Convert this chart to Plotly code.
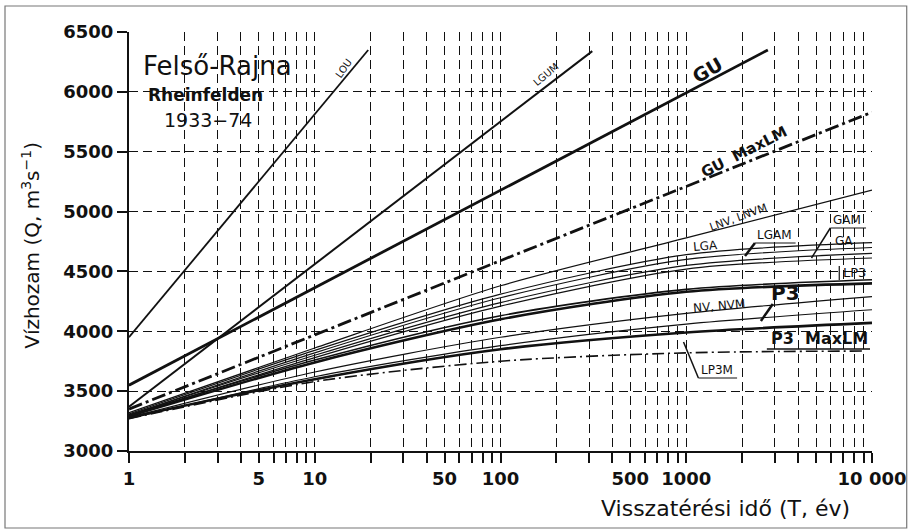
import plotly.graph_objects as go

# ---------------- data ----------------
# return period T (years) at which the smooth curves are read
T_pts = [1, 10, 100, 1000, 10000]

# straight lines (log-x) : start / end points
lou_T = [1, 19.4];    lou_Q = [3950, 6350]
lgum_T = [1, 312];    lgum_Q = [3370, 6340]
gu_T = [1, 2750];     gu_Q = [3550, 6350]
gumax_T = [1, 10000]; gumax_Q = [3350, 5830]

# curved distributions (values at T_pts)
lnv_Q   = [3320, 3860, 4380, 4780, 5180]
lga_Q   = [3310, 3840, 4310, 4640, 4740]
lgam_Q  = [3300, 3820, 4280, 4600, 4700]
gam_Q   = [3300, 3800, 4240, 4550, 4650]
ga_Q    = [3290, 3780, 4210, 4520, 4612]
lp3_Q   = [3300, 3760, 4130, 4350, 4430]
p3_Q    = [3290, 3740, 4100, 4330, 4400]
nv_Q    = [3280, 3660, 3950, 4150, 4290]
nvm_Q   = [3270, 3620, 3880, 4060, 4180]
p3max_Q = [3280, 3600, 3850, 3990, 4070]
lp3m_T  = [1, 10, 100, 1000, 9000]
lp3m_Q  = [3270, 3580, 3750, 3820, 3835]

x_major = [1, 5, 10, 50, 100, 500, 1000, 10000]
x_major_text = ["1", "5", "10", "50", "100", "500", "1000", "10 000"]
x_minor = [m * 10 ** d for d in range(4) for m in range(1, 10)
           if m * 10 ** d not in x_major]
y_tickvals = [3000, 3500, 4000, 4500, 5000, 5500, 6000, 6500]

FONT = "DejaVu Sans"
BLACK = "#111111"

fig = go.Figure()

def add(xs, ys, width, dash="solid", spline=False):
    fig.add_trace(go.Scatter(
        x=xs, y=ys, mode="lines",
        line=dict(color=BLACK, width=width, dash=dash,
                  shape="spline" if spline else "linear", smoothing=0.8),
        showlegend=False, hoverinfo="skip"))

add(lou_T, lou_Q, 1.8)
add(lgum_T, lgum_Q, 2.0)
add(gu_T, gu_Q, 2.8)
add(gumax_T, gumax_Q, 2.8, dash="14px,4px,3px,4px")
add(T_pts, lnv_Q, 1.2, spline=True)
add(T_pts, lga_Q, 1.2, spline=True)
add(T_pts, lgam_Q, 1.2, spline=True)
add(T_pts, gam_Q, 1.2, spline=True)
add(T_pts, ga_Q, 1.2, spline=True)
add(T_pts, lp3_Q, 1.6, spline=True)
add(T_pts, p3_Q, 2.6, spline=True)
add(T_pts, nv_Q, 1.2, spline=True)
add(T_pts, nvm_Q, 1.2, spline=True)
add(T_pts, p3max_Q, 2.6, spline=True)
add(lp3m_T, lp3m_Q, 1.6, dash="12px,4px,2px,4px", spline=True)

# ---------- helpers for label placement (pixel -> data / paper) ----------
X0, X1, Y0, Y1 = 129, 878, 451, 32
def dx(px):
    return (px - X0) / (X1 - X0) * 4.0          # log10(T)
def dy(py):
    return 3000 + (Y0 - py) / (Y0 - Y1) * 3500
def pxp(px):
    return (px - X0) / (X1 - X0)
def pyp(py):
    return (Y0 - py) / (Y0 - Y1)

anns = []
def lab(px, py, text, size, angle=0, bold=False):
    anns.append(dict(x=dx(px), y=dy(py), xref="x", yref="y", text=text,
                     showarrow=False, textangle=angle,
                     font=dict(family=FONT, size=size, color=BLACK,
                               weight="bold" if bold else "normal"),
                     xanchor="center", yanchor="middle"))

lab(345, 68, "LOU", 10, -55)
lab(549, 74, "LGUM", 10, -40)
lab(712, 70, "GU", 19, -30, True)
lab(749, 152, "GU  MaxLM", 15, -27, True)
lab(743, 217, "LNV, LNVM", 11, -20)
lab(710, 246, "LGA", 12, -5)
lab(780, 235, "LGAM", 12)
lab(853, 220, "GAM", 12)
lab(850, 241, "GA", 12)
lab(860, 272, "LP3", 13)
lab(791, 293, "P3", 20, 0, True)
lab(724, 306, "NV, NVM", 12, -5)
lab(825, 338, "P3  MaxLM", 16, 0, True)
lab(722, 370, "LP3M", 12)

def ptxt(px, py, text, size, bold=False, angle=0):
    anns.append(dict(x=pxp(px), y=pyp(py),
                     xref="paper", yref="paper", text=text, showarrow=False,
                     textangle=angle,
                     font=dict(family=FONT, size=size, color=BLACK,
                               weight="bold" if bold else "normal"),
                     xanchor="center", yanchor="middle"))

ptxt(218, 66, "Felső-Rajna", 26)
ptxt(206, 95, "Rheinfelden", 17, True)
ptxt(209, 120, "1933−74", 19)
ptxt(730, 508, "Visszatérési idő (T, év)", 22)
ptxt(30, 245, "Vízhozam (Q, m<sup>3</sup>s<sup>−1</sup>)", 20, angle=-90)

# leader lines and underlines (paper coordinates)
shapes = []
def seg(p1, p2, w=1.5):
    shapes.append(dict(type="line", xref="paper", yref="paper",
                       x0=pxp(p1[0]), y0=pyp(p1[1]),
                       x1=pxp(p2[0]), y1=pyp(p2[1]),
                       line=dict(color=BLACK, width=w)))
seg((750, 256), (760, 243), 2.5)
seg((760, 243), (801, 243), 1.0)      # LGAM underline
seg((817, 258), (836, 228), 1.5)
seg((836, 228), (872, 228), 1.0)      # GAM underline
seg((845, 266), (845, 280), 1.2)
seg((778, 304), (766, 321), 2.5)
seg((688, 342), (703, 378), 1.5)
seg((703, 378), (742, 378), 1.0)      # LP3M underline
seg((772, 349), (876, 349), 1.5)      # P3 MaxLM underline

# outer frame
shapes.append(dict(type="rect", xref="paper", yref="paper",
                   x0=pxp(4), x1=pxp(913), y0=pyp(528), y1=pyp(6),
                   line=dict(color="#777777", width=1.2)))

grid_kw = dict(showgrid=True, gridcolor=BLACK, gridwidth=1.1,
               griddash="9px,5px")

fig.update_layout(
    width=918, height=532,
    margin=dict(l=X0, r=918 - X1, t=Y1, b=532 - Y0),
    paper_bgcolor="white", plot_bgcolor="white",
    annotations=anns, shapes=shapes, showlegend=False,
    xaxis=dict(type="log", range=[0, 4], tickmode="array",
               tickvals=x_major, ticktext=x_major_text,
               ticks="outside", ticklen=10, tickwidth=1.5, tickcolor=BLACK,
               minor=dict(tickmode="array", tickvals=x_minor,
                          ticks="outside", ticklen=10, tickwidth=1.5,
                          tickcolor=BLACK, **grid_kw),
               showline=True, linecolor=BLACK, linewidth=2,
               zeroline=False, **grid_kw,
               tickfont=dict(family=FONT, size=18, color=BLACK,
                             weight="bold")),
    yaxis=dict(range=[3000, 6500], tickvals=y_tickvals, ticks="outside",
               ticklen=10, tickwidth=1.5, tickcolor=BLACK, **grid_kw,
               showline=True, linecolor=BLACK, linewidth=2,
               zeroline=False,
               tickfont=dict(family=FONT, size=18, color=BLACK,
                             weight="bold")),
)

fig.write_html("out.html")
